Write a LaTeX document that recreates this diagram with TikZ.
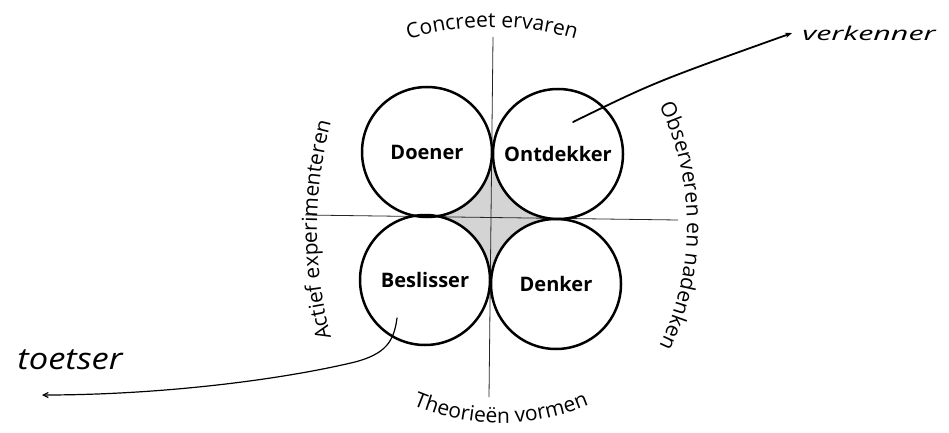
\documentclass[tikz,border=0pt]{standalone}
\usepackage{fontspec}
\setmainfont{Open Sans}
\usetikzlibrary{decorations.text,backgrounds,arrows.meta}
\newcommand\arcfont{\fontsize{21}{25}\selectfont}
\begin{document}
\begin{tikzpicture}[x=1pt,y=1pt,
  kring/.style={circle, draw, line width=2.5pt, minimum size=130pt, inner sep=0pt,
    font=\bfseries\fontsize{20}{24}\selectfont},
  as/.style={line width=0.8pt, draw=black!85},
  arctext/.style={decorate, decoration={text along path, text align=center, text={|\arcfont|#1}}},
  hand/.style={font=\itshape, inner sep=0pt}
]
\useasboundingbox (0,0) rectangle (949,432);

% circles
\node[kring] (doener) at (427,280) {Doener};
\node[kring] (ontdekker) at (558,278) {Ontdekker};
\node[kring] (beslisser) at (425,152) {Beslisser};
\node[kring] (denker) at (556,148) {Denker};

% axes end points
\coordinate (axT) at (493,395);
\coordinate (axB) at (489,35);
\coordinate (axL) at (305,217);
\coordinate (axR) at (678,212);

\begin{scope}[on background layer]
  \fill[black!17] (doener.center) -- (ontdekker.center) -- (denker.center) -- (beslisser.center) -- cycle;
  \draw[as] (axT) -- (axB);
  \draw[as] (axL) -- (axR);
  \foreach \n in {doener,ontdekker,beslisser,denker}
    \fill[white] (\n.center) circle[radius=65pt];
\end{scope}

% texts along arcs
\path[arctext={Concreet ervaren}] ([shift={(115:290pt)}]492,115) arc[start angle=115,end angle=65,radius=290pt];
\path[arctext={Theorieën vormen}] ([shift={(235:226pt)}]501,235) arc[start angle=235,end angle=305,radius=226pt];
\path[arctext={Actief experimenteren}] ([shift={(200:420pt)}]737,202) arc[start angle=200,end angle=160,radius=420pt];
\path[arctext={Observeren en nadenken}] ([shift={(35:272pt)}]415,206) arc[start angle=35,end angle=-35,radius=272pt];

% handwritten notes
\node[hand] (verk) at (869,399) {\scalebox{1.6}[1]{\fontsize{19}{22}\selectfont verkenner}};
\node[hand] (toet) at (70,72) {\scalebox{1.15}[1]{\fontsize{30}{34}\selectfont toetser}};

\coordinate (vstart) at (573,310);
\draw[line width=1.8pt, line cap=round, -{Stealth[length=7pt,width=5pt]}]
  (vstart) .. controls (655,350) .. ([xshift=-10pt]verk.west);

\coordinate (tstart) at (397,114);
\coordinate (tend) at (42,37);
\draw[line width=1.2pt, line cap=round, -{Straight Barb[length=5pt,width=5pt]}]
  (tstart) .. controls (394,90) and (385,78) .. (355,70) .. controls (280,52) and (160,37) .. (tend);
\end{tikzpicture}
\end{document}
